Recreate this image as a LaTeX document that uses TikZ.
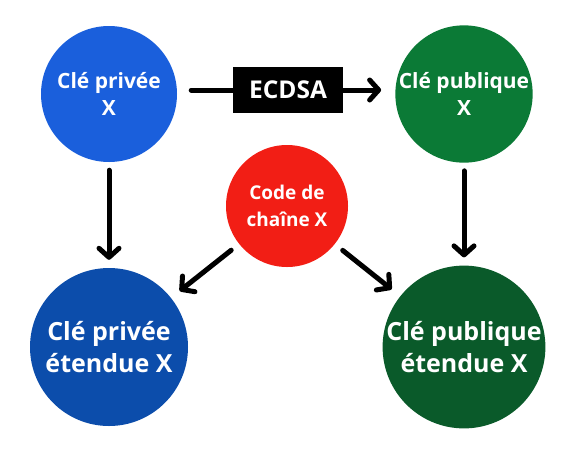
\documentclass[tikz,border=0pt]{standalone}
\usepackage{fontspec}
\setmainfont{Open Sans}
\usetikzlibrary{arrows.meta}
\definecolor{cblue}{HTML}{1A5FDC}
\definecolor{cgreen}{HTML}{0B7A36}
\definecolor{cred}{HTML}{F21E15}
\definecolor{cdblue}{HTML}{0C4DAB}
\definecolor{cdgreen}{HTML}{0A5A2A}
\tikzset{
  keynode/.style={circle, inner sep=0pt, align=center, text=white},
  topkey/.style={keynode, minimum size=136pt, font=\bfseries\fontsize{21}{27.5}\selectfont},
  botkey/.style={keynode, minimum size=158pt, font=\bfseries\fontsize{25}{31.5}\selectfont},
  midkey/.style={keynode, minimum size=122pt, font=\bfseries\fontsize{19}{26.5}\selectfont},
  algbox/.style={fill=black, text=white, minimum width=110pt, minimum height=46pt, inner sep=0pt, font=\bfseries\fontsize{24.5}{28}\selectfont},
  arr/.style={line width=5pt, line cap=round, line join=round, -{Straight Barb[length=9pt, width=20pt, line width=5pt, round]}},
}
\begin{document}
\begin{tikzpicture}[x=1pt,y=-1pt]
\useasboundingbox (0,0) rectangle (577,464);
\node[topkey, fill=cblue] (pk) at (109,94) {Clé privée\\X};
\node[topkey, fill=cgreen] (pub) at (464,94) {Clé publique\\X};
\node[midkey, fill=cred] (cc) at (287,206) {Code de\\chaîne X};
\node[botkey, fill=cdblue] (epk) at (109,347) {Clé privée\\étendue X};
\node[botkey, fill=cdgreen] (epub) at (464,347) {Clé publique\\étendue X};
\node[algbox] (ecdsa) at (288,90) {ECDSA};
\draw[line width=5pt, line cap=round, shorten <=14pt] (pk.east |- ecdsa.west) -- (ecdsa.west);
\draw[arr, shorten >=14pt] (ecdsa.east) -- (pub.west |- ecdsa.east);
\draw[arr, shorten <=8pt, shorten >=8pt] (pk) -- (epk);
\draw[arr, shorten <=8pt, shorten >=8pt] (pub) -- (epub);
\draw[arr, shorten <=10pt, shorten >=11pt] (cc) -- (epk);
\draw[arr, shorten <=10pt, shorten >=11pt] (cc) -- (epub);
\end{tikzpicture}
\end{document}
